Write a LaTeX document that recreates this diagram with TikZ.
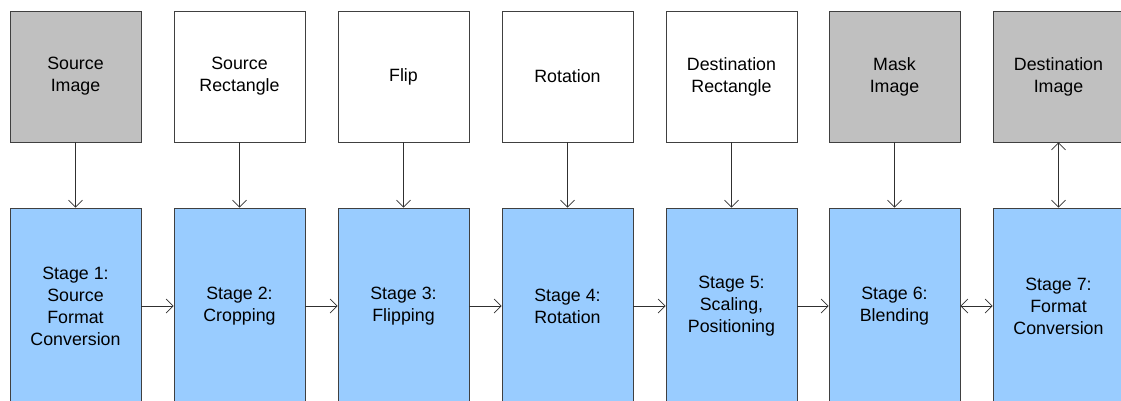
\documentclass[tikz,border=0pt]{standalone}
\usepackage{fontspec}
\setmainfont{Liberation Sans}
\usetikzlibrary{arrows.meta}
\definecolor{grayfill}{HTML}{C0C0C0}
\definecolor{bluefill}{HTML}{99CCFF}
\definecolor{edge}{HTML}{404040}
\definecolor{conn}{HTML}{303030}
\begin{document}
\begin{tikzpicture}[x=1pt,y=-1pt,
  box/.style={draw=edge,line width=0.9pt,minimum width=131pt,inner sep=0pt,align=center,
    font=\fontsize{17.8}{22}\selectfont},
  inbox/.style={box,minimum height=131pt},
  gbox/.style={inbox,fill=grayfill},
  wbox/.style={inbox,fill=white},
  stagebox/.style={box,fill=bluefill,minimum height=196pt},
  conn/.style={draw=conn,line width=0.7pt,-{Straight Barb[length=7pt,width=14pt]}},
  bconn/.style={draw=conn,line width=0.7pt,{Straight Barb[length=7pt,width=14pt]}-{Straight Barb[length=7pt,width=14pt]}}
]
\useasboundingbox (0,0) rectangle (1121,401);
\clip (0,0) rectangle (1121,401);
\node[gbox] (t1) at (75.5,76.5) {Source\\Image};
\node[wbox] (t2) at (239.5,76.5) {Source\\Rectangle};
\node[wbox] (t3) at (403.5,76.5) {Flip};
\node[wbox] (t4) at (567.5,76.5) {Rotation};
\node[wbox] (t5) at (731.5,76.5) {Destination\\Rectangle};
\node[gbox] (t6) at (894.5,76.5) {Mask\\Image};
\node[gbox] (t7) at (1058.5,76.5) {Destination\\Image};
\node[stagebox] (s1) at (75.5,306) {Stage 1:\\Source\\Format\\Conversion};
\node[stagebox] (s2) at (239.5,306) {Stage 2:\\Cropping};
\node[stagebox] (s3) at (403.5,306) {Stage 3:\\Flipping};
\node[stagebox] (s4) at (567.5,306) {Stage 4:\\Rotation};
\node[stagebox] (s5) at (731.5,306) {Stage 5:\\Scaling,\\Positioning};
\node[stagebox] (s6) at (894.5,306) {Stage 6:\\Blending};
\node[stagebox] (s7) at (1058.5,306) {Stage 7:\\Format\\Conversion};
\draw[conn] (t1) -- (s1);
\draw[conn] (t2) -- (s2);
\draw[conn] (t3) -- (s3);
\draw[conn] (t4) -- (s4);
\draw[conn] (t5) -- (s5);
\draw[conn] (t6) -- (s6);
\draw[bconn] (t7) -- (s7);
\draw[conn] (s1) -- (s2);
\draw[conn] (s2) -- (s3);
\draw[conn] (s3) -- (s4);
\draw[conn] (s4) -- (s5);
\draw[conn] (s5) -- (s6);
\draw[bconn] (s6) -- (s7);
\end{tikzpicture}
\end{document}
